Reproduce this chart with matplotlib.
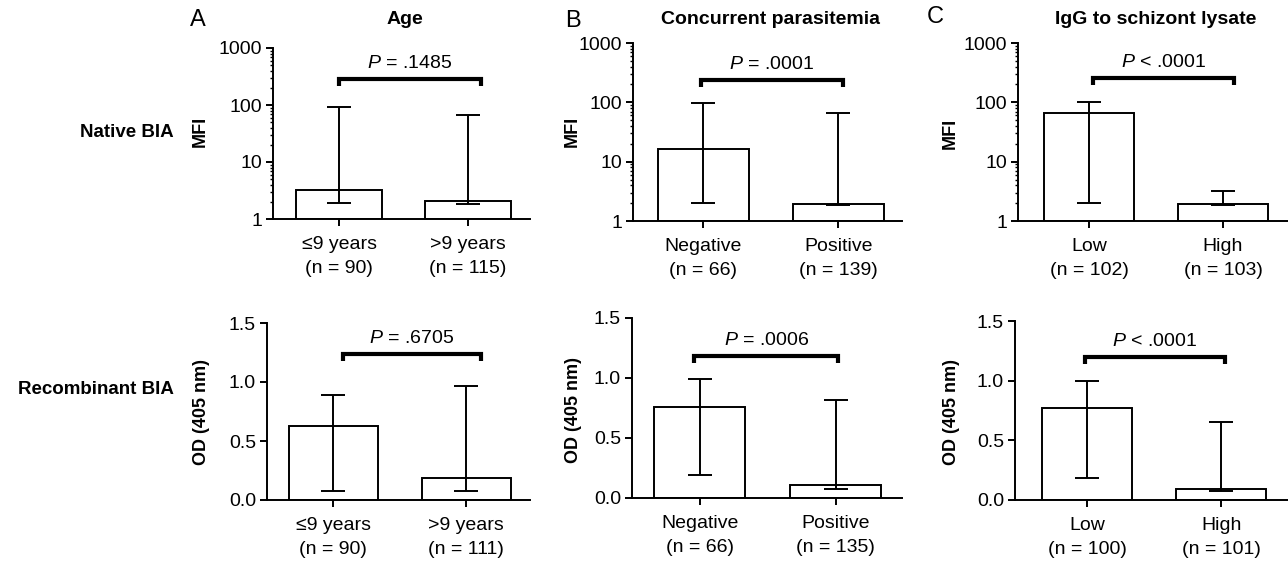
import matplotlib
matplotlib.use('Agg')
import matplotlib.pyplot as plt
from matplotlib.ticker import LogLocator, NullFormatter, FixedLocator

plt.rcParams['font.family'] = ['Liberation Sans', 'DejaVu Sans']
plt.rcParams['mathtext.fontset'] = 'custom'
plt.rcParams['mathtext.it'] = 'Liberation Sans:italic'
plt.rcParams['mathtext.rm'] = 'Liberation Sans'

# ---------------- data ----------------
titles = ['Age', 'Concurrent parasitemia', 'IgG to schizont lysate']
panel_letters = ['A', 'B', 'C']
row_labels = ['Native BIA', 'Recombinant BIA']

age_labels = ['≤9 years', '>9 years']
para_labels = ['Negative', 'Positive']
igg_labels = ['Low', 'High']

native_n_age = [90, 115]
native_n_para = [66, 139]
native_n_igg = [102, 103]
recomb_n_age = [90, 111]
recomb_n_para = [66, 135]
recomb_n_igg = [100, 101]

# Native BIA (MFI) : bar value, lower whisker, upper whisker
native_age_mid = [3.2, 2.1]
native_age_low = [1.9, 1.85]
native_age_high = [93, 67]
native_para_mid = [16.5, 1.9]
native_para_low = [2.0, 1.85]
native_para_high = [98, 67]
native_igg_mid = [67, 1.9]
native_igg_low = [2.0, 1.85]
native_igg_high = [102, 3.2]

# Recombinant BIA (OD 405 nm)
recomb_age_mid = [0.63, 0.19]
recomb_age_low = [0.08, 0.08]
recomb_age_high = [0.89, 0.965]
recomb_para_mid = [0.76, 0.11]
recomb_para_low = [0.19, 0.075]
recomb_para_high = [0.99, 0.815]
recomb_igg_mid = [0.775, 0.092]
recomb_igg_low = [0.185, 0.075]
recomb_igg_high = [1.0, 0.655]

native_p = ['= .1485', '= .0001', '< .0001']
recomb_p = ['= .6705', '= .0006', '< .0001']
native_bracket_y = [290, 240, 257]
recomb_bracket_y = [1.235, 1.18, 1.196]

# ---------------- layout ----------------
W, H = 1288, 561
fig = plt.figure(figsize=(W / 100, H / 100), dpi=100)

def rect(l, t, r, b):
    return [l / W, 1 - b / H, (r - l) / W, (b - t) / H]

def fx(x):
    return x / W

def fy(y):
    return 1 - y / H

top_rects = [(273, 48, 530, 219), (633, 43, 902, 221), (1018, 43, 1288, 221)]
bot_rects = [(267, 323, 530, 500), (632, 318, 902, 498), (1015, 321, 1288, 500)]
top_xlims = [(-0.512, 1.48), (-0.52, 1.47), (-0.53, 1.485)]
bot_xlims = [(-0.50, 1.48), (-0.50, 1.49), (-0.54, 1.50)]
top_brackets_x = [(0.0, 1.10), (-0.02, 1.03), (0.03, 1.08)]
bot_brackets_x = [(0.07, 1.11), (-0.04, 1.02), (-0.02, 1.03)]
top_ylab_pos = [(200, 131), (572, 131), (950, 133)]
bot_ylab_pos = [(202, 412), (573, 410), (952, 412)]
letter_pos = [(198, 20), (573, 21), (935, 17)]

cats = [age_labels, para_labels, igg_labels]
top_n = [native_n_age, native_n_para, native_n_igg]
bot_n = [recomb_n_age, recomb_n_para, recomb_n_igg]
top_vals = [(native_age_mid, native_age_low, native_age_high),
            (native_para_mid, native_para_low, native_para_high),
            (native_igg_mid, native_igg_low, native_igg_high)]
bot_vals = [(recomb_age_mid, recomb_age_low, recomb_age_high),
            (recomb_para_mid, recomb_para_low, recomb_para_high),
            (recomb_igg_mid, recomb_igg_low, recomb_igg_high)]

LW = 1.4
TICK_FS = 14
BAR_W = 0.67


def draw_panel(ax, labels, ns, vals, log, xlim, bx, by, ptxt):
    mid, low, high = vals
    x = list(range(len(labels)))
    if log:
        ax.bar(x, [m - 1 for m in mid], bottom=1, width=BAR_W, color='white',
               edgecolor='black', linewidth=LW, zorder=2)
    else:
        ax.bar(x, mid, width=BAR_W, color='white', edgecolor='black',
               linewidth=LW, zorder=2)
    yerr = [[m - l for m, l in zip(mid, low)], [h - m for m, h in zip(mid, high)]]
    ax.errorbar(x, mid, yerr=yerr, fmt='none', ecolor='black', elinewidth=LW,
                capsize=8.5, capthick=LW, zorder=3)
    ax.set_xlim(*xlim)
    if log:
        ax.set_yscale('log')
        ax.set_ylim(1, 1000)
        ax.yaxis.set_major_locator(FixedLocator([1, 10, 100, 1000]))
        ax.yaxis.set_major_formatter(plt.FuncFormatter(lambda v, p: f'{int(round(v))}'))
        ax.yaxis.set_minor_locator(LogLocator(base=10, subs=range(2, 10)))
        ax.yaxis.set_minor_formatter(NullFormatter())
    else:
        ax.set_ylim(0, 1.5)
        ax.set_yticks([0.0, 0.5, 1.0, 1.5])
        ax.set_yticklabels(['0.0', '0.5', '1.0', '1.5'])
    ax.set_xticks(x)
    ax.set_xticklabels([f'{c}\n(n = {n})' for c, n in zip(labels, ns)],
                       linespacing=1.55)
    for s in ['top', 'right']:
        ax.spines[s].set_visible(False)
    for s in ['left', 'bottom']:
        ax.spines[s].set_linewidth(LW)
    ax.tick_params(axis='both', which='major', width=LW, length=5,
                   labelsize=TICK_FS, direction='out')
    ax.tick_params(axis='y', which='minor', width=1.0, length=2.5)
    ax.tick_params(axis='y', pad=3)
    ax.tick_params(axis='x', pad=7)
    ax.patch.set_alpha(0)

    # bracket
    x0, x1 = bx
    d0 = ax.transData.transform((x0, by))
    ylow = ax.transData.inverted().transform((d0[0], d0[1] - 7))[1]
    ax.plot([x0, x0, x1, x1], [ylow, by, by, ylow], color='black', lw=3.0,
            solid_joinstyle='miter', solid_capstyle='butt', clip_on=False,
            zorder=4)
    ax.annotate(r'$P$ ' + ptxt, xy=((x0 + x1) / 2, by), xytext=(0, 5),
                textcoords='offset points', ha='center', va='bottom',
                fontsize=14)


for i in range(3):
    ax = fig.add_axes(rect(*top_rects[i]))
    draw_panel(ax, cats[i], top_n[i], top_vals[i], True, top_xlims[i],
               top_brackets_x[i], native_bracket_y[i], native_p[i])
    cx = (top_rects[i][0] + top_rects[i][2]) / 2
    fig.text(fx(cx + 3), fy(20), titles[i], ha='center', va='center',
             fontsize=14, fontweight='bold')
    fig.text(fx(letter_pos[i][0]), fy(letter_pos[i][1]), panel_letters[i],
             ha='center', va='center', fontsize=17)
    fig.text(fx(top_ylab_pos[i][0]), fy(top_ylab_pos[i][1]), 'MFI',
             rotation=90, ha='center', va='center', fontsize=13,
             fontweight='bold')

    ax = fig.add_axes(rect(*bot_rects[i]))
    draw_panel(ax, cats[i], bot_n[i], bot_vals[i], False, bot_xlims[i],
               bot_brackets_x[i], recomb_bracket_y[i], recomb_p[i])
    fig.text(fx(bot_ylab_pos[i][0]), fy(bot_ylab_pos[i][1]), 'OD (405 nm)',
             rotation=90, ha='center', va='center', fontsize=13,
             fontweight='bold')

fig.text(fx(174), fy(132), row_labels[0], ha='right', va='center',
         fontsize=13.5, fontweight='bold')
fig.text(fx(174), fy(390), row_labels[1], ha='right', va='center',
         fontsize=13.5, fontweight='bold')

fig.savefig('out.png', dpi=100, facecolor='white')
